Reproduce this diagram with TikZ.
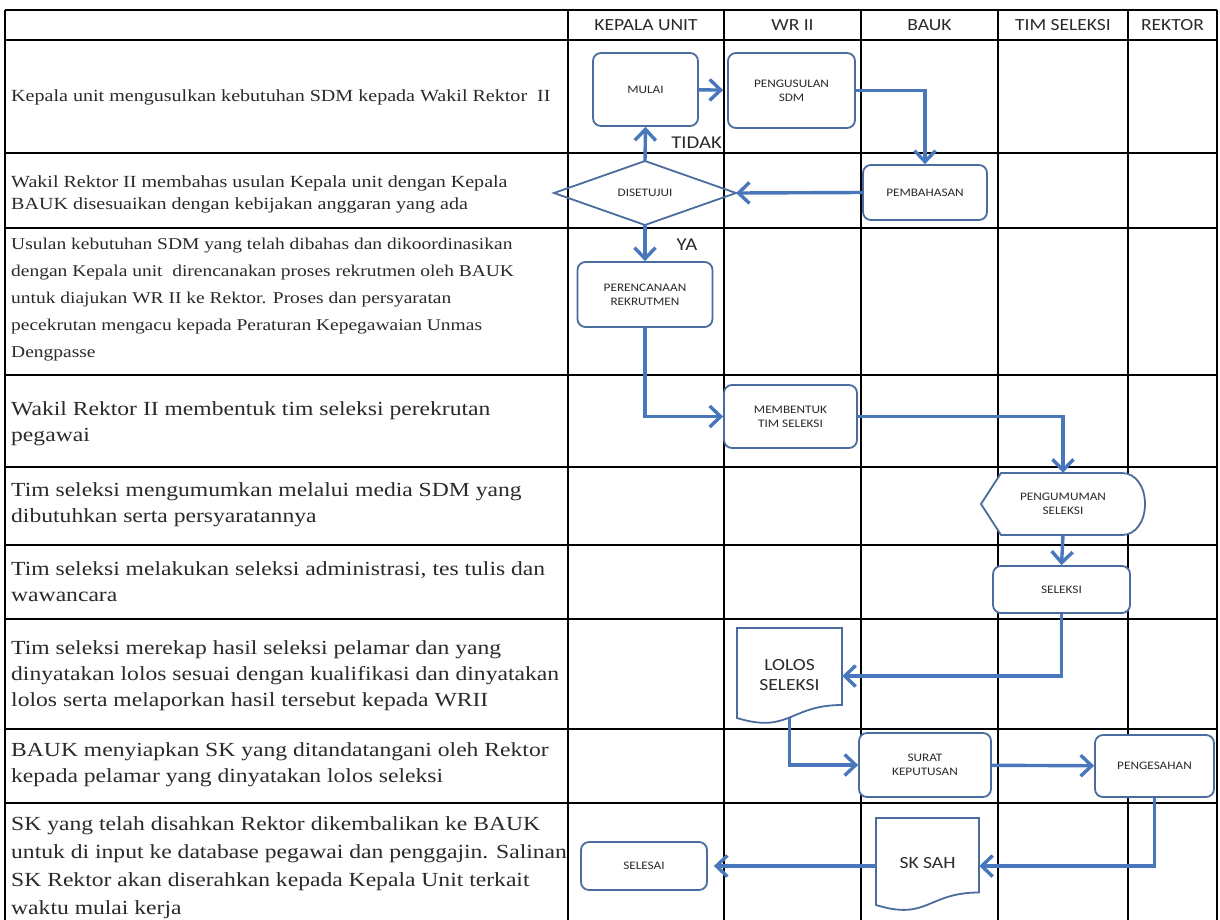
\documentclass[tikz,border=0pt]{standalone}
\usepackage{fontspec}
\setmainfont{Liberation Serif}
\newfontfamily\descfont[FakeStretch=1.18]{Liberation Serif}
\newfontfamily\labfont[FakeStretch=1.15]{Carlito}
\usetikzlibrary{arrows.meta,calc}

\definecolor{edgeblue}{HTML}{4A6C9E}
\definecolor{flowblue}{HTML}{4877BC}
\definecolor{inkgray}{HTML}{2A2A2A}

\begin{document}
\begin{tikzpicture}[x=1pt,y=-1pt,
  gridline/.style={line width=1.4pt, black},
  procbox/.style={draw=edgeblue, line width=1.8pt, rounded corners=8pt, fill=white,
    inner sep=0pt, align=center, text=inkgray,
    font=\labfont\fontsize{11.5}{14}\selectfont},
  docline/.style={draw=edgeblue, line width=1.8pt, fill=white},
  doctext/.style={inner sep=0pt, align=center, text=inkgray,
    font=\labfont\fontsize{17}{20}\selectfont},
  flow/.style={draw=flowblue, line width=3.4pt,
    -{Straight Barb[length=11pt,width=21pt,line width=3.4pt]}},
  headtext/.style={inner sep=0pt, text=inkgray, font=\labfont\fontsize{17}{20}\selectfont},
  branch/.style={inner sep=0pt, text=inkgray, font=\labfont\fontsize{18}{20}\selectfont},
  descsmall/.style={anchor=west, inner sep=0pt, align=left, text=inkgray,
    font=\descfont\fontsize{17}{22}\selectfont},
  descmid/.style={anchor=west, inner sep=0pt, align=left, text=inkgray,
    font=\descfont\fontsize{16.5}{27}\selectfont},
  desclarge/.style={anchor=west, inner sep=0pt, align=left, text=inkgray,
    font=\descfont\fontsize{20}{26}\selectfont},
]
\useasboundingbox (0,0) rectangle (1220,919);
\fill[white] (0,0) rectangle (1220,919);

% ---- table grid ----
\foreach \gx in {5,568,724,861,998,1128,1217}
  \draw[gridline] (\gx,10) -- (\gx,930);
\foreach \gy in {10,40,153,228,375,467,545,619,729,803}
  \draw[gridline] (5,\gy) -- (1217,\gy);

% ---- header ----
\node[headtext] (hku) at (646,25) {KEPALA UNIT};
\node[headtext] (hwr) at (792.5,25) {WR II};
\node[headtext] (hba) at (929.5,25) {BAUK};
\node[headtext] (hts) at (1063,25) {TIM SELEKSI};
\node[headtext] (hrk) at (1172.5,25) {REKTOR};

% ---- activity descriptions ----
\node[descsmall] (d1) at (11,97) {Kepala unit mengusulkan kebutuhan SDM kepada Wakil Rektor\ \ II};
\node[descsmall] (d2) at (11,194) {Wakil Rektor II membahas usulan Kepala unit dengan Kepala\\BAUK disesuaikan dengan kebijakan anggaran yang ada};
\node[descmid] (d3) at (11,300) {Usulan kebutuhan SDM yang telah dibahas dan dikoordinasikan\\dengan Kepala unit\ \ direncanakan proses rekrutmen oleh BAUK\\untuk diajukan WR II ke Rektor. Proses dan persyaratan\\pecekrutan mengacu kepada Peraturan Kepegawaian Unmas\\Dengpasse};
\node[desclarge] (d4) at (11,424) {Wakil Rektor II membentuk tim seleksi perekrutan\\pegawai};
\node[desclarge] (d5) at (11,505) {Tim seleksi mengumumkan melalui media SDM yang\\dibutuhkan serta persyaratannya};
\node[desclarge] (d6) at (11,582) {Tim seleksi melakukan seleksi administrasi, tes tulis dan\\wawancara};
\node[desclarge] (d7) at (11,676) {Tim seleksi merekap hasil seleksi pelamar dan yang\\dinyatakan lolos sesuai dengan kualifikasi dan dinyatakan\\lolos serta melaporkan hasil tersebut kepada WRII};
\node[desclarge] (d8) at (11,765) {BAUK menyiapkan SK yang ditandatangani oleh Rektor\\kepada pelamar yang dinyatakan lolos seleksi};
\node[desclarge, font=\descfont\fontsize{20}{28}\selectfont] (d9) at (11,868) {SK yang telah disahkan Rektor dikembalikan ke BAUK\\untuk di input ke database pegawai dan penggajin. Salinan\\SK Rektor akan diserahkan kepada Kepala Unit terkait\\waktu mulai kerja};

% ---- flowchart shapes ----
\node[procbox, minimum width=105pt, minimum height=73pt] (mulai) at (645.5,89.5) {MULAI};
\node[procbox, minimum width=127pt, minimum height=75pt] (usul) at (791.5,90.5) {PENGUSULAN\\SDM};
\node[procbox, minimum width=124pt, minimum height=55pt] (bahas) at (925,192.5) {PEMBAHASAN};

% decision
\coordinate (disN) at (645,161);
\coordinate (disS) at (645,225);
\coordinate (disE) at (736,193);
\coordinate (disW) at (554,193);
\draw[draw=edgeblue, line width=1.8pt] (disN) -- (disE) -- (disS) -- (disW) -- cycle;
\node[inner sep=0pt, text=inkgray, font=\labfont\fontsize{11.5}{14}\selectfont] (setuju) at (645,193) {DISETUJUI};

\node[procbox, minimum width=135pt, minimum height=65pt] (rencana) at (645,294.5) {PERENCANAAN\\REKRUTMEN};
\node[procbox, minimum width=133pt, minimum height=63pt] (bentuk) at (790.5,416.5) {MEMBENTUK\\TIM SELEKSI};

% display shape
\draw[docline] (981,504) -- (1001,473) -- (1122,473)
  .. controls (1136,473) and (1145,487) .. (1145,504)
  .. controls (1145,521) and (1136,535) .. (1122,535)
  -- (1001,535) -- cycle;
\node[inner sep=0pt, align=center, text=inkgray, font=\labfont\fontsize{11.5}{14}\selectfont,
  minimum width=164pt, minimum height=62pt] (umum) at (1063,504) {PENGUMUMAN\\SELEKSI};

\node[procbox, minimum width=137pt, minimum height=47pt] (seleksi) at (1061.5,589.5) {SELEKSI};

% document: lolos seleksi
\draw[docline] (737,628) -- (842,628) -- (842,705)
  .. controls (789.5,705) and (789.5,734) .. (737,718) -- cycle;
\node[doctext, minimum width=105pt, minimum height=96pt] (lolos) at (789.5,676)
  {\raisebox{9pt}{\begin{tabular}{@{}c@{}}LOLOS\\SELEKSI\end{tabular}}};
\coordinate (lolosB) at ($(lolos.south)+(0,-6.5)$);

\node[procbox, minimum width=132pt, minimum height=64pt] (surat) at (925,765) {SURAT\\KEPUTUSAN};
\node[procbox, minimum width=119pt, minimum height=62pt] (sah) at (1154.5,766) {PENGESAHAN};

% document: sk sah
\draw[docline] (876,818) -- (979,818) -- (979,892.5)
  .. controls (927.5,892.5) and (927.5,921) .. (876,905) -- cycle;
\node[doctext, minimum width=103pt, minimum height=93pt] (sksah) at (927.5,866)
  {\raisebox{7pt}{SK SAH}};

\node[procbox, minimum width=126pt, minimum height=48pt] (selesai) at (644,866) {SELESAI};

% ---- connectors ----
\draw[flow, shorten >=4pt] (mulai) -- (usul);
\draw[flow] (usul.east) -| (bahas.north);
\draw[flow] (bahas.west) -- (disE);
\draw[flow] (disN) -- (mulai.south);
\node[branch, anchor=east] (tidak) at (722,143) {TIDAK};
\draw[flow] (disS) -- (rencana.north);
\node[branch] (ya) at (687,245) {YA};
\draw[flow] (rencana.south) |- (bentuk.west);
\draw[flow] (bentuk.east) -| (umum.north);
\draw[flow] (umum.south) -- (seleksi.north);
\draw[flow] (seleksi.south) |- (lolos.east);
\draw[flow] (lolosB) |- (surat.west);
\draw[flow] (surat) -- (sah);
\draw[flow] (sah.south) |- (sksah.east);
\draw[flow, shorten >=6pt] (sksah.west) -- (selesai.east);
\end{tikzpicture}
\end{document}
